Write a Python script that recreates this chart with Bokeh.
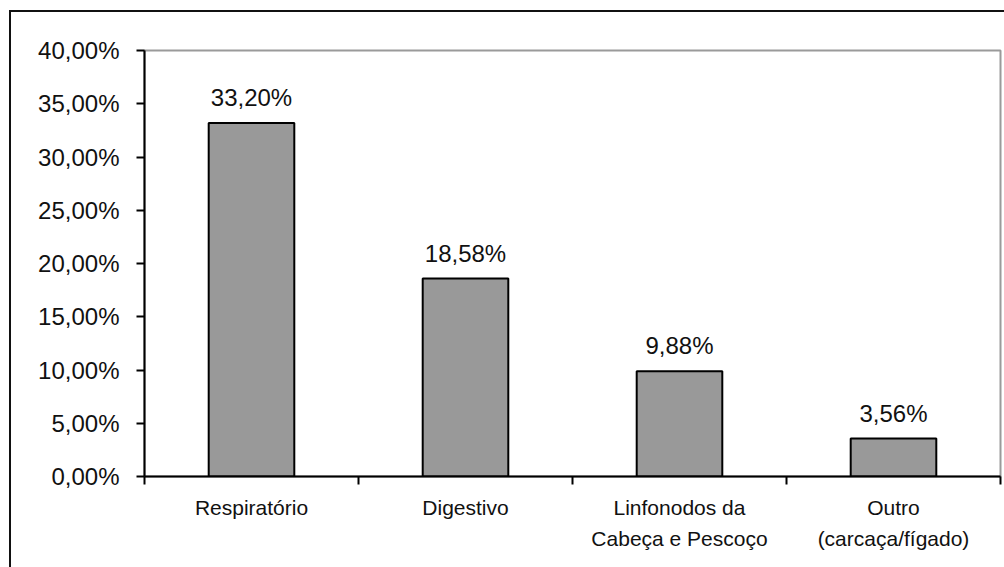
from bokeh.plotting import figure
from bokeh.models import (ColumnDataSource, FixedTicker, CustomJSTickFormatter,
                          LabelSet, Range1d)
from bokeh.core.properties import value
from bokeh.embed import file_html
from bokeh.resources import INLINE

categories = ["Respiratório", "Digestivo", "Linfonodos da\nCabeça e Pescoço", "Outro\n(carcaça/fígado)"]
values = [33.20, 18.58, 9.88, 3.56]
y_ticks = [0, 5, 10, 15, 20, 25, 30, 35, 40]

xs = [i + 0.5 for i in range(len(categories))]
labels = [f"{v:.2f}".replace(".", ",") + "%" for v in values]
src = ColumnDataSource(dict(x=xs, top=values, label=labels))

FONT = "Liberation Sans"

frame_css = ("linear-gradient(#111, #111) 9px 10px / 2px 100% no-repeat, "
             "linear-gradient(#111, #111) 9px 10px / 100% 2px no-repeat, white")

p = figure(width=1004, height=567, output_backend="svg", toolbar_location=None,
           x_range=Range1d(0, len(categories)), y_range=Range1d(0, 40),
           min_border_left=144, min_border_right=4, min_border_top=50, min_border_bottom=91,
           styles={"background": frame_css})
p.background_fill_color = "white"
p.border_fill_alpha = 0
p.outline_line_color = "#9a9a9a"
p.outline_line_width = 2
p.grid.visible = False

p.vbar(x="x", top="top", width=0.4, bottom=0, source=src,
       fill_color="#999999", line_color="black", line_width=2)

p.add_layout(LabelSet(x="x", y="top", text="label", source=src, text_align="center",
                      text_baseline="alphabetic", y_offset=17, text_font=value(FONT),
                      text_font_size="24px", text_color="#111111"))

# y axis
ya = p.yaxis[0]
ya.ticker = FixedTicker(ticks=y_ticks, minor_ticks=[])
ya.formatter = CustomJSTickFormatter(code="return tick.toFixed(2).replace('.', ',') + '%';")
ya.axis_line_width = 2
ya.axis_line_color = "black"
ya.major_tick_line_width = 2
ya.major_tick_line_color = "black"
ya.major_tick_out = 8
ya.major_tick_in = 0
ya.major_label_standoff = 17
ya.major_label_text_font = FONT
ya.major_label_text_font_size = "24px"
ya.major_label_text_color = "#111111"

# x axis
xa = p.xaxis[0]
xa.ticker = FixedTicker(ticks=xs, minor_ticks=list(range(len(categories) + 1)))
xa.major_label_overrides = {x: c for x, c in zip(xs, categories)}
xa.axis_line_width = 2
xa.axis_line_color = "black"
xa.major_tick_out = 0
xa.major_tick_in = 0
xa.minor_tick_out = 8
xa.minor_tick_in = 0
xa.minor_tick_line_width = 2
xa.minor_tick_line_color = "black"
xa.major_label_standoff = 11
xa.major_label_text_font = FONT
xa.major_label_text_font_size = "21px"
xa.major_label_text_color = "#111111"
xa.major_label_text_line_height = 1.38

open("out.html", "w").write(file_html(p, INLINE))
